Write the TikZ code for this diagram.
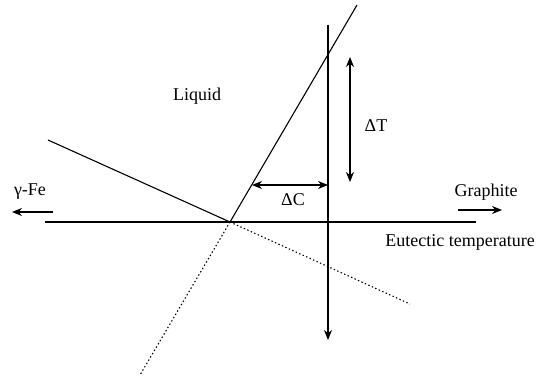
\documentclass[tikz,border=0pt]{standalone}
\usepackage{fontspec}
\setmainfont{Liberation Serif}
\usetikzlibrary{arrows.meta}
\begin{document}
\begin{tikzpicture}[x=1pt,y=-1pt,
  solid line/.style={line width=1.1pt},
  ext/.style={line width=1.1pt, dash pattern=on 1.4pt off 2.4pt},
  tipend/.style={line width=1.1pt,-{Stealth[length=10pt,width=8pt]}},
  twotips/.style={line width=1.1pt,{Stealth[length=10pt,width=8pt]}-{Stealth[length=10pt,width=8pt]}},
  lbl/.style={font=\fontsize{18}{20}\selectfont, inner sep=0pt}]
\useasboundingbox (0,0) rectangle (538,377);
% key points
\coordinate (E) at (230,222);
\coordinate (eL) at (45,222);
\coordinate (eR) at (476,222);
\coordinate (gT) at (357,5);
\coordinate (gB) at (140,375);
\coordinate (fL) at (48,140);
\coordinate (fR) at (410,304);
\coordinate (vT) at (328,25);
\coordinate (vB) at (328,340);
\coordinate (cL) at (252,185);
\coordinate (cR) at (328,185);
\coordinate (tT) at (350,57);
\coordinate (tB) at (350,182);
\coordinate (aFe1) at (53,212);
\coordinate (aFe2) at (12,212);
\coordinate (aG1) at (458,210);
\coordinate (aG2) at (502,210);
% labels
\node[lbl] (fe) at (30,192) {γ-Fe};
\node[lbl] (gr) at (486,192) {Graphite};
\node[lbl] (eu) at (460,242) {Eutectic temperature};
\node[lbl] (liq) at (197,96) {Liquid};
\node[lbl] (dc) at (293,200) {ΔC};
\node[lbl] (dt) at (376,126) {ΔT};
% lines
\draw[solid line] (eL) -- (eR);
\draw[solid line] (E) -- (gT);
\draw[ext] (E) -- (gB);
\draw[solid line] (fL) -- (E);
\draw[ext] (E) -- (fR);
\draw[tipend] (vT) -- (vB);
\draw[twotips] (cL) -- (cR);
\draw[twotips] (tT) -- (tB);
\draw[tipend] (aFe1) -- (aFe2);
\draw[tipend] (aG1) -- (aG2);
\end{tikzpicture}
\end{document}
